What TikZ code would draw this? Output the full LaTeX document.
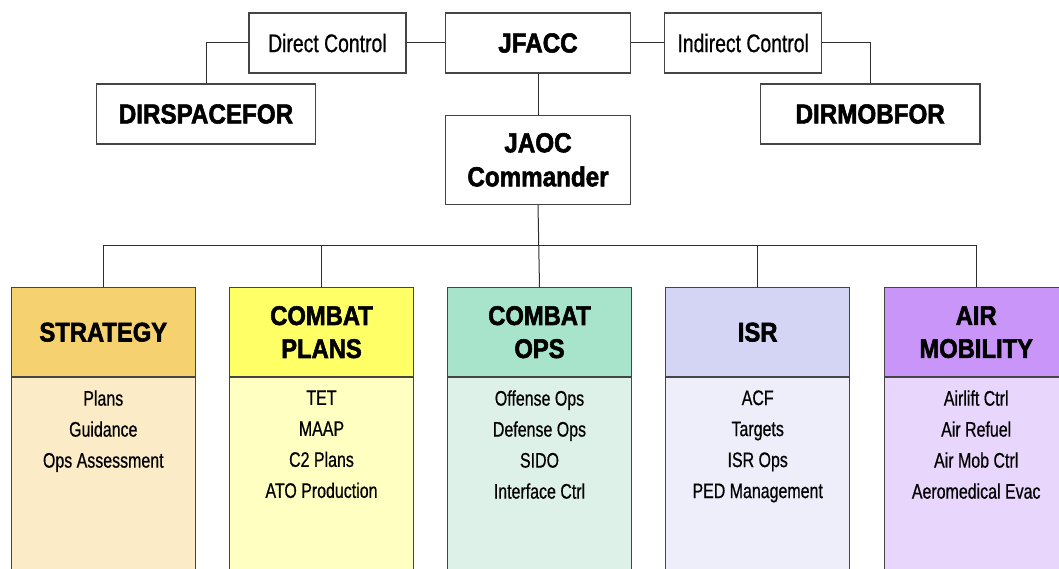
\documentclass[tikz,border=0pt]{standalone}
\usepackage{fontspec}
\newfontfamily\itemfont{Liberation Sans}[FakeStretch=0.76,FakeBold=0.6]
\newfontfamily\headfont{Liberation Sans}[FakeStretch=0.88,UprightFont={* Bold},FakeBold=2]

% column colours: header / body
\definecolor{stratH}{HTML}{F5D16F}\definecolor{stratB}{HTML}{FBEBC6}
\definecolor{plansH}{HTML}{FFFF66}\definecolor{plansB}{HTML}{FFFFC2}
\definecolor{opsH}{HTML}{A8E3CB}\definecolor{opsB}{HTML}{DDF1E9}
\definecolor{isrH}{HTML}{D4D4F4}\definecolor{isrB}{HTML}{EEEEFB}
\definecolor{mobH}{HTML}{C995F8}\definecolor{mobB}{HTML}{E9D6FC}
\definecolor{boxline}{HTML}{454545}
\definecolor{wire}{HTML}{2E2E2E}

\begin{document}
\begin{tikzpicture}[x=1pt,y=-1pt,
  frame/.style={draw=boxline, line width=1.3pt, inner sep=0pt, align=center, fill=white},
  label/.style={frame, minimum width=157pt, minimum height=60pt,
                font=\itemfont\fontsize{25.5}{30}\selectfont},
  chief/.style={frame, minimum height=60pt,
                font=\headfont\fontsize{27.5}{34}\selectfont},
  colhead/.style={frame, minimum width=184pt, minimum height=89pt,
                font=\headfont\fontsize{27}{33}\selectfont},
  colbody/.style={frame, minimum width=184pt, minimum height=240pt, anchor=north},
  items/.style={inner sep=0pt, align=center, anchor=north,
                font=\itemfont\fontsize{21}{31}\selectfont},
  conn/.style={draw=wire, line width=1pt}]
\useasboundingbox (0,0) rectangle (1059,569);
\clip (0,0) rectangle (1059,569);

% command level
\node[chief, minimum width=185pt] (jfacc) at (538,43) {JFACC};
\node[label] (dc) at (327.4,43) {Direct Control};
\node[label] (ic) at (743.2,43) {Indirect Control};
\node[chief, minimum width=219.5pt] (dsf) at (206,114) {DIRSPACEFOR};
\node[chief, minimum width=219.5pt] (dmf) at (870.2,114) {DIRMOBFOR};
\node[chief, minimum width=185pt, minimum height=89pt] (jaoc) at (538,159.8) {JAOC\\Commander};

\draw[conn] (dc.west) -| (dsf.north);
\draw[conn] (dc.east) -- (jfacc.west);
\draw[conn] (jfacc.east) -- (ic.west);
\draw[conn] (ic.east) -| (dmf.north);
\draw[conn] (jfacc.south) -- (jaoc.north);

% divisions
\foreach \n/\x/\h/\b/\t in {strat/103.3/stratH/stratB/STRATEGY,
                             plans/321.5/plansH/plansB/COMBAT\\PLANS,
                             ops/539.5/opsH/opsB/COMBAT\\OPS,
                             isr/757.7/isrH/isrB/ISR,
                             mob/976.2/mobH/mobB/AIR\\MOBILITY}{
  \node[colbody, fill=\b] (\n b) at (\x,376.7) {};
  \node[colhead, fill=\h] (\n) at (\x,332.2) {\t};
}

\node[items] (stratl) at ([yshift=-13.5pt]stratb.north) {Plans\\Guidance\\Ops Assessment};
\node[items] (plansl) at ([yshift=-13.5pt]plansb.north) {TET\\MAAP\\C2 Plans\\ATO Production};
\node[items] (opsl) at ([yshift=-13.5pt]opsb.north) {Offense Ops\\Defense Ops\\SIDO\\Interface Ctrl};
\node[items] (isrl) at ([yshift=-13.5pt]isrb.north) {ACF\\Targets\\ISR Ops\\PED Management};
\node[items] (mobl) at ([yshift=-13.5pt]mobb.north) {Airlift Ctrl\\Air Refuel\\Air Mob Ctrl\\Aeromedical Evac};

% distribution bus
\coordinate (bus) at (0,246);
\draw[conn] (strat.north) |- (bus -| mob.north) -- (mob.north);
\draw[conn] (plans.north) -- (plans.north |- bus);
\draw[conn] (isr.north) -- (isr.north |- bus);
\draw[conn] (jaoc.south) -- (ops.north);
\end{tikzpicture}
\end{document}
